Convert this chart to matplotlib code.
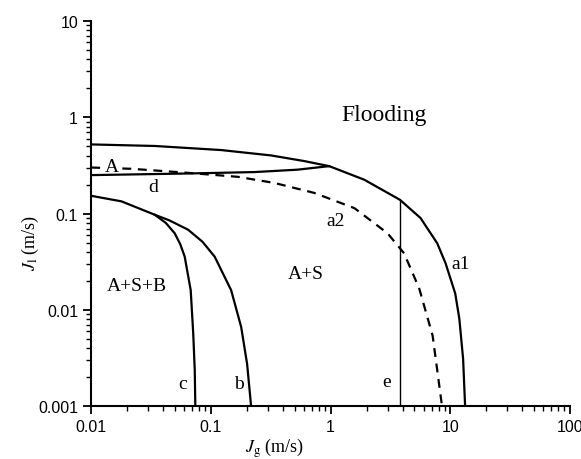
import matplotlib
matplotlib.use("Agg")
import matplotlib.pyplot as plt

# curve a1 (flooding boundary, solid)
a1_x = [0.01, 0.034, 0.122, 0.318, 0.604, 0.975, 1.91, 3.8, 5.65, 7.79, 9.14, 11.0, 11.9, 12.8, 13.3]
a1_y = [0.523, 0.504, 0.457, 0.402, 0.351, 0.311, 0.225, 0.139, 0.0898, 0.049, 0.0304, 0.0148, 0.0081, 0.0031, 0.001]

# curve a2 (dashed)
a2_x = [0.01, 0.0217, 0.0645, 0.168, 0.34, 0.73, 1.58, 2.99, 4.11, 5.5, 7.12, 8.53]
a2_y = [0.301, 0.292, 0.265, 0.241, 0.208, 0.164, 0.114, 0.0625, 0.0387, 0.0167, 0.0054, 0.001]

# curve d
d_x = [0.01, 0.0645, 0.231, 0.531, 0.73, 0.975]
d_y = [0.251, 0.261, 0.27, 0.286, 0.299, 0.311]

# curve c
c_x = [0.01, 0.0179, 0.034, 0.042, 0.0498, 0.0555, 0.0604, 0.0678, 0.0712, 0.0733, 0.0741]
c_y = [0.153, 0.134, 0.0972, 0.08, 0.0625, 0.048, 0.0357, 0.016, 0.00565, 0.00234, 0.001]

# curve b (branches off c)
b_x = [0.034, 0.045, 0.0645, 0.085, 0.1075, 0.1476, 0.179, 0.2006, 0.2167]
b_y = [0.0972, 0.085, 0.068, 0.051, 0.0357, 0.016, 0.00664, 0.00275, 0.001]

# line e
e_x = [3.8, 3.8]
e_y = [0.001, 0.139]

plt.rcParams['font.family'] = ['Liberation Sans', 'DejaVu Sans']
plt.rcParams['mathtext.fontset'] = 'stix'

fig = plt.figure(figsize=(5.81, 4.60), dpi=100)
ax = fig.add_axes([0.157, 0.115, 0.824, 0.837])

lw = 1.6
ax.plot(a1_x, a1_y, color='black', lw=lw, zorder=3)
ax.plot(a2_x, a2_y, color='black', lw=lw, ls=(0, (4, 3)), zorder=2)
ax.plot(d_x, d_y, color='black', lw=lw, zorder=3)
ax.plot(c_x, c_y, color='black', lw=lw, zorder=3)
ax.plot(b_x, b_y, color='black', lw=lw, zorder=3)
ax.plot(e_x, e_y, color='black', lw=1.0, zorder=3)

ax.set_xscale('log')
ax.set_yscale('log')
ax.set_xlim(0.01, 100)
ax.set_ylim(0.001, 10)
ax.set_xticks([0.01, 0.1, 1, 10, 100])
ax.set_xticklabels(['0.01', '0.1', '1', '10', '100'])
ax.set_yticks([0.001, 0.01, 0.1, 1, 10])
ax.set_yticklabels(['0.001', '0.01', '0.1', '1', '10'])

ax.spines['top'].set_visible(False)
ax.spines['right'].set_visible(False)
ax.spines['left'].set_linewidth(1.5)
ax.spines['bottom'].set_linewidth(1.5)
ax.tick_params(which='major', direction='out', length=6, width=1.3, labelsize=11.5, colors='black')
ax.tick_params(which='minor', direction='out', length=3.5, width=1.0)

serif = ['Liberation Serif', 'DejaVu Serif']
fs = 14
ax.text(2.8, 1.07, 'Flooding', family=serif, fontsize=17, ha='center', va='center')
ax.text(0.0148, 0.305, 'A', family=serif, fontsize=fs, ha='center', va='center', zorder=2.5,
        bbox=dict(facecolor='white', edgecolor='none', pad=0.5))
ax.text(0.033, 0.19, 'd', family=serif, fontsize=fs, ha='center', va='center')
ax.text(1.1, 0.085, 'a2', family=serif, fontsize=fs, ha='center', va='center')
ax.text(0.62, 0.024, 'A+S', family=serif, fontsize=fs, ha='center', va='center')
ax.text(0.024, 0.018, 'A+S+B', family=serif, fontsize=fs, ha='center', va='center')
ax.text(0.058, 0.0017, 'c', family=serif, fontsize=fs, ha='center', va='center')
ax.text(0.172, 0.0017, 'b', family=serif, fontsize=fs, ha='center', va='center')
ax.text(2.95, 0.0018, 'e', family=serif, fontsize=fs, ha='center', va='center')
ax.text(12.2, 0.0304, 'a1', family=serif, fontsize=fs, ha='center', va='center')

fig.text(274 / 581, 1 - 448 / 460, r'$J_\mathrm{g}$ (m/s)', family=serif, fontsize=13,
         ha='center', va='center')
fig.text(30 / 581, 1 - 243 / 460, r'$J_\mathrm{l}$ (m/s)', family=serif, fontsize=13,
         ha='center', va='center', rotation=90)

fig.savefig('out.png', dpi=100)
